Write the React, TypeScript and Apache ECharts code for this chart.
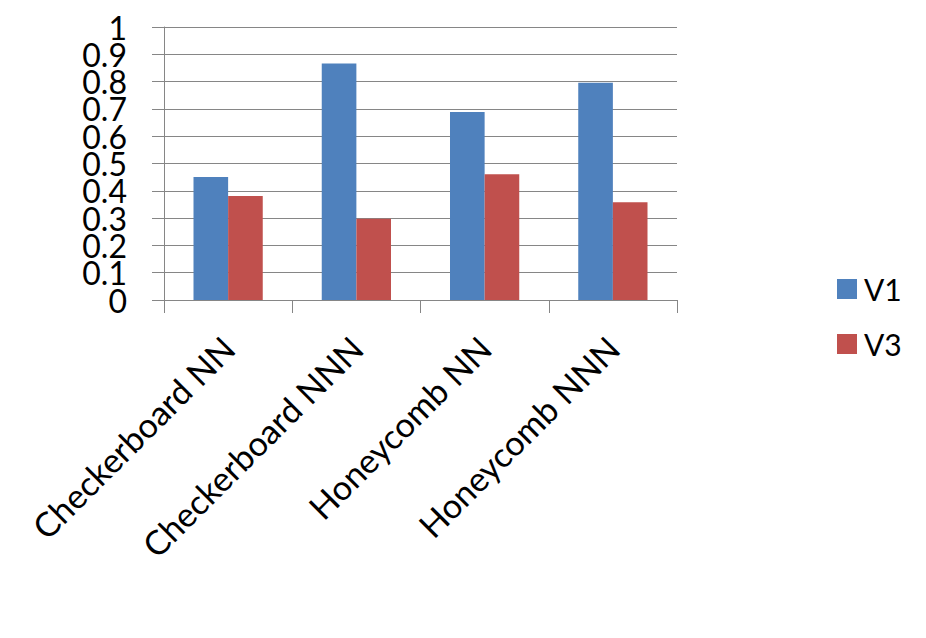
import React, { useEffect, useRef } from "react";
import * as echarts from "echarts";

const categories = ["Checkerboard NN", "Checkerboard NNN", "Honeycomb NN", "Honeycomb NNN"];
const v1 = [0.451, 0.866, 0.689, 0.796];
const v3 = [0.381, 0.298, 0.461, 0.358];
const seriesNames = ["V1", "V3"];
const yTicksEven = [0, 0.2, 0.4, 0.6, 0.8, 1];
const yTicksOdd = [0.1, 0.3, 0.5, 0.7, 0.9];

const FONT = "Lato";

export default function App() {
  const ref = useRef<HTMLDivElement>(null);
  useEffect(() => {
    if (!ref.current) return;
    const chart = echarts.init(ref.current, null, { renderer: "svg" });
    const labelStyle = {
      margin: 37,
      fontFamily: FONT,
      fontSize: 32,
      lineHeight: 26,
      color: "#000",
      formatter: (v: number) => String(Math.round(v * 10) / 10),
    };
    chart.setOption({
      animation: false,
      backgroundColor: "#ffffff",
      grid: { left: 164, right: 249, top: 27, bottom: 338, containLabel: false },
      legend: {
        orient: "vertical",
        left: 832,
        top: 269,
        itemWidth: 20,
        itemHeight: 20,
        itemGap: 25,
        icon: "rect",
        textStyle: { fontFamily: FONT, fontSize: 30, color: "#000", padding: [0, 0, 0, 2] },
        data: seriesNames,
      },
      xAxis: {
        type: "category",
        data: categories,
        axisLine: { show: true, lineStyle: { color: "#868686", width: 1 } },
        axisTick: { show: true, length: 13, lineStyle: { color: "#868686" } },
        axisLabel: {
          rotate: 45,
          margin: 42,
          fontFamily: FONT,
          fontSize: 34,
          color: "#000",
          interval: 0,
        },
      },
      yAxis: [
        {
          type: "value",
          position: "left",
          min: 0,
          max: 1,
          interval: 0.1,
          axisLine: { show: true, lineStyle: { color: "#868686", width: 1 } },
          axisTick: { show: true, length: 12, lineStyle: { color: "#868686" } },
          splitLine: { show: true, lineStyle: { color: "#868686", width: 1 } },
          axisLabel: { ...labelStyle, customValues: yTicksEven, showMinLabel: true, showMaxLabel: true },
        },
        {
          type: "value",
          position: "left",
          offset: 0,
          min: 0,
          max: 1,
          interval: 0.1,
          axisLine: { show: false },
          axisTick: { show: false },
          splitLine: { show: false },
          axisLabel: { ...labelStyle, customValues: yTicksOdd, showMinLabel: true, showMaxLabel: true },
        },
      ],
      series: [
        {
          name: seriesNames[0],
          type: "bar",
          yAxisIndex: 0,
          data: v1,
          itemStyle: { color: "#4F81BD" },
          barGap: "0%",
          barCategoryGap: "46%",
        },
        {
          name: seriesNames[1],
          type: "bar",
          yAxisIndex: 0,
          data: v3,
          itemStyle: { color: "#C0504D" },
          barGap: "0%",
          barCategoryGap: "46%",
        },
      ],
    });
    return () => chart.dispose();
  }, []);
  return (
    <div
      ref={ref}
      style={{ position: "fixed", left: 0, top: 0, width: 926, height: 638 }}
    />
  );
}
